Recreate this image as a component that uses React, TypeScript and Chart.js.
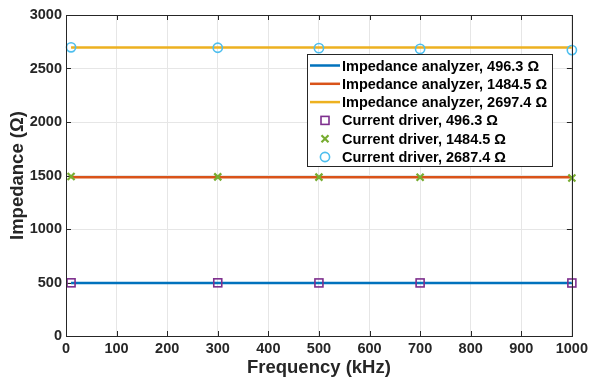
import React, { useEffect, useRef } from "react";
import { Chart, registerables } from "chart.js";

Chart.register(...registerables);

const analyzerFreq = [10, 300, 500, 700, 1000];
const analyzer496 = [496.3, 496.3, 496.3, 496.3, 496.3];
const analyzer1484 = [1484.5, 1484.5, 1484.5, 1484.5, 1484.5];
const analyzer2697 = [2697.4, 2697.4, 2697.4, 2697.4, 2697.4];

const driverFreq = [10, 300, 500, 700, 1000];
const driver496 = [497, 497, 496, 496, 495.5];
const driver1484 = [1490, 1487, 1485, 1483, 1477];
const driver2687 = [2698, 2694, 2690, 2683, 2672];

const xTicks = [0, 100, 200, 300, 400, 500, 600, 700, 800, 900, 1000];
const yTicks = [0, 500, 1000, 1500, 2000, 2500, 3000];

const legendLabels = [
  "Impedance analyzer, 496.3 Ω",
  "Impedance analyzer, 1484.5 Ω",
  "Impedance analyzer, 2697.4 Ω",
  "Current driver, 496.3 Ω",
  "Current driver, 1484.5 Ω",
  "Current driver, 2687.4 Ω",
];

const BLUE = "#0072BD";
const ORANGE = "#D95319";
const YELLOW = "#EDB120";
const PURPLE = "#7E2F8E";
const GREEN = "#77AC30";
const CYAN = "#4DBEEE";
const FONT = "'Liberation Sans', Arial, Helvetica, sans-serif";

const pts = (xs: number[], ys: number[]) => xs.map((x, i) => ({ x, y: ys[i] }));

function drawMarker(ctx: CanvasRenderingContext2D, kind: string, x: number, y: number) {
  ctx.save();
  if (kind === "rect") {
    ctx.strokeStyle = PURPLE;
    ctx.lineWidth = 1.6;
    ctx.strokeRect(x - 4, y - 4, 8, 8);
  } else if (kind === "cross") {
    ctx.strokeStyle = GREEN;
    ctx.lineWidth = 2.2;
    ctx.beginPath();
    ctx.moveTo(x - 3.5, y - 3.5);
    ctx.lineTo(x + 3.5, y + 3.5);
    ctx.moveTo(x + 3.5, y - 3.5);
    ctx.lineTo(x - 3.5, y + 3.5);
    ctx.stroke();
  } else {
    ctx.strokeStyle = CYAN;
    ctx.lineWidth = 1.6;
    ctx.beginPath();
    ctx.arc(x, y, 4.6, 0, Math.PI * 2);
    ctx.stroke();
  }
  ctx.restore();
}

const frameAndLegend = {
  id: "frameAndLegend",
  beforeDatasetsDraw(chart: any) {
    const { ctx, chartArea: a, scales } = chart;
    ctx.save();
    ctx.strokeStyle = "#262626";
    ctx.lineWidth = 1;
    ctx.beginPath();
    for (const v of xTicks) {
      const px = Math.round(scales.x.getPixelForValue(v)) + 0.5;
      ctx.moveTo(px, a.bottom);
      ctx.lineTo(px, a.bottom - 5);
      ctx.moveTo(px, a.top);
      ctx.lineTo(px, a.top + 5);
    }
    for (const v of yTicks) {
      const py = Math.round(scales.y.getPixelForValue(v)) + 0.5;
      ctx.moveTo(a.left, py);
      ctx.lineTo(a.left + 5, py);
      ctx.moveTo(a.right, py);
      ctx.lineTo(a.right - 5, py);
    }
    ctx.stroke();
    ctx.restore();
  },
  afterDraw(chart: any) {
    const { ctx, chartArea: a } = chart;
    ctx.save();
    ctx.strokeStyle = "#262626";
    ctx.lineWidth = 1;
    ctx.strokeRect(Math.round(a.left) + 0.5, Math.round(a.top) + 0.5, Math.round(a.right - a.left), Math.round(a.bottom - a.top));

    const lx = 307, ly = 54, lw = 245, lh = 112;
    ctx.fillStyle = "#ffffff";
    ctx.fillRect(lx, ly, lw, lh);
    ctx.strokeStyle = "#262626";
    ctx.strokeRect(lx + 0.5, ly + 0.5, lw, lh);
    const rowY0 = 65.5, rowH = 18.3;
    ctx.font = `bold 14.5px ${FONT}`;
    ctx.textBaseline = "middle";
    ctx.textAlign = "left";
    const lineColors = [BLUE, ORANGE, YELLOW];
    const markers = ["rect", "cross", "circle"];
    legendLabels.forEach((lab, i) => {
      const cy = rowY0 + i * rowH;
      if (i < 3) {
        ctx.strokeStyle = lineColors[i];
        ctx.lineWidth = 2.5;
        ctx.beginPath();
        ctx.moveTo(310, cy);
        ctx.lineTo(340, cy);
        ctx.stroke();
      } else {
        drawMarker(ctx, markers[i - 3], 325, cy);
      }
      ctx.fillStyle = "#000000";
      ctx.fillText(lab, 342, cy + 1);
    });
    ctx.restore();
  },
};

const markerPlugin = {
  id: "customMarkers",
  afterDatasetsDraw(chart: any) {
    const { ctx, scales } = chart;
    const sets: [string, number[]][] = [["rect", driver496], ["cross", driver1484], ["circle", driver2687]];
    ctx.save();
    for (const [kind, ys] of sets) {
      driverFreq.forEach((f, i) => {
        drawMarker(ctx, kind, scales.x.getPixelForValue(f), scales.y.getPixelForValue(ys[i]));
      });
    }
    ctx.restore();
  },
};

export default function App() {
  const ref = useRef<HTMLCanvasElement>(null);
  useEffect(() => {
    if (!ref.current) return;
    const lineDs = (label: string, ys: number[], color: string) => ({
      type: "line" as const,
      label,
      data: pts(analyzerFreq, ys),
      borderColor: color,
      backgroundColor: color,
      borderWidth: 2.5,
      pointRadius: 0,
      fill: false,
      order: 2,
    });
    const scatterDs = (label: string, ys: number[]) => ({
      type: "scatter" as const,
      label,
      data: pts(driverFreq, ys),
      pointRadius: 0,
      showLine: false,
      order: 1,
    });
    const tickFont = { family: FONT, size: 14.5, weight: "bold" as const };
    const titleFont = { family: FONT, size: 18.5, weight: "bold" as const };
    const chart = new Chart(ref.current, {
      type: "line",
      data: {
        datasets: [
          lineDs(legendLabels[0], analyzer496, BLUE),
          lineDs(legendLabels[1], analyzer1484, ORANGE),
          lineDs(legendLabels[2], analyzer2697, YELLOW),
          scatterDs(legendLabels[3], driver496),
          scatterDs(legendLabels[4], driver1484),
          scatterDs(legendLabels[5], driver2687),
        ] as any,
      },
      options: {
        animation: false,
        responsive: false,
        layout: { padding: { top: 15, right: 17, left: 7, bottom: 0 } },
        plugins: { legend: { display: false }, tooltip: { enabled: false } },
        scales: {
          x: {
            type: "linear",
            min: 0,
            max: 1000,
            afterBuildTicks: (s: any) => { s.ticks = xTicks.map((v) => ({ value: v })); },
            afterFit: (s: any) => { s.height = 43; },
            grid: { color: "#e6e6e6", lineWidth: 1, tickLength: 0, drawTicks: false },
            border: { display: false },
            ticks: { color: "#262626", font: tickFont, padding: 4, maxRotation: 0, callback: (v: any) => String(v) },
            title: { display: true, text: "Frequency (kHz)", color: "#262626", font: titleFont, padding: { top: 0, bottom: 0 } },
          },
          y: {
            type: "linear",
            min: 0,
            max: 3000,
            afterBuildTicks: (s: any) => { s.ticks = yTicks.map((v) => ({ value: v })); },
            afterFit: (s: any) => { s.width = 59; },
            grid: { color: "#e6e6e6", lineWidth: 1, tickLength: 0, drawTicks: false },
            border: { display: false },
            ticks: { color: "#262626", font: tickFont, padding: 4, callback: (v: any) => String(v) },
            title: { display: true, text: "Impedance (Ω)", color: "#262626", font: titleFont, padding: { top: 0, bottom: 2 } },
          },
        },
      },
      plugins: [frameAndLegend, markerPlugin],
    });
    return () => chart.destroy();
  }, []);
  return (
    <div style={{ position: "absolute", left: 0, top: 0, width: 592, height: 379, background: "#fff" }}>
      <canvas ref={ref} width={592} height={379} style={{ display: "block" }} />
    </div>
  );
}
